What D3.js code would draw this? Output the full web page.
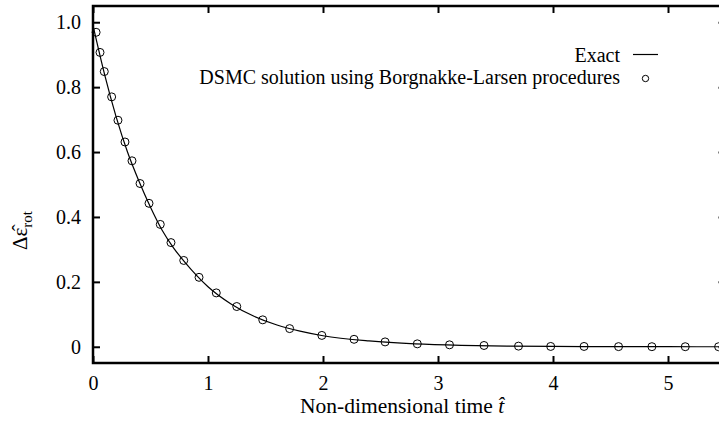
<!DOCTYPE html>
<html>
<head>
<meta charset="utf-8">
<script src="https://cdn.jsdelivr.net/npm/d3@7"></script>
<style>
  body { margin: 0; background: #fff; }
</style>
</head>
<body>
<svg width="719" height="428"></svg>
<script>
// exact solution
const exactT = [0, 0.1, 0.2, 0.3, 0.4, 0.5, 0.6, 0.7, 0.8, 0.9, 1.0, 1.2, 1.4, 1.6, 1.8, 2.0, 2.4, 2.8, 3.2, 3.6, 4.0, 4.5, 5.0, 5.5];
const exactY = [0.99, 0.84, 0.71, 0.60, 0.51, 0.43, 0.36, 0.305, 0.26, 0.22, 0.185, 0.132, 0.094, 0.067, 0.048, 0.034, 0.018, 0.009, 0.0045, 0.0023, 0.0012, 0.0005, 0.0002, 0.0001];

// DSMC points
const dsmcT = [0.027, 0.061, 0.098, 0.162, 0.217, 0.278, 0.339, 0.409, 0.487, 0.585, 0.678, 0.789, 0.922, 1.072, 1.25, 1.476, 1.71, 1.99, 2.27, 2.54, 2.82, 3.10, 3.40, 3.70, 3.98, 4.27, 4.57, 4.86, 5.15, 5.44];
const dsmcY = [0.969, 0.907, 0.848, 0.770, 0.698, 0.631, 0.573, 0.503, 0.442, 0.377, 0.321, 0.266, 0.214, 0.166, 0.124, 0.083, 0.056, 0.035, 0.023, 0.015, 0.009, 0.006, 0.004, 0.002, 0.001, 0.001, 0.0005, 0.0003, 0.0002, 0.0001];

const xTicks = [0, 1, 2, 3, 4, 5];
const yTicks = [0, 0.2, 0.4, 0.6, 0.8, 1.0];

const FONT = '"Liberation Serif", "Times New Roman", Times, serif';
const pLeft = 93, pRight = 725.5, pTop = 6, pBottom = 363;

const svg = d3.select('svg');

const x = d3.scaleLinear().domain([0, 5.5]).range([pLeft, pRight]);
const y = d3.scaleLinear().domain([-0.05, 1.05]).range([pBottom, pTop]);

// ticks, gnuplot style (inside, mirrored)
const tl = 7;
const xAxis = d3.axisBottom(x).tickValues(xTicks).tickSizeInner(-tl).tickSizeOuter(0).tickPadding(13).tickFormat(d3.format('d'));
const yAxis = d3.axisLeft(y).tickValues(yTicks).tickSizeInner(-tl).tickSizeOuter(0).tickPadding(12)
  .tickFormat(d => d === 0 ? '0' : d3.format('.1f')(d));

const axes = [
  svg.append('g').attr('transform', `translate(0,${pBottom})`).call(xAxis),
  svg.append('g').attr('transform', `translate(${pLeft},0)`).call(yAxis),
  svg.append('g').attr('transform', `translate(0,${pTop})`)
    .call(d3.axisTop(x).tickValues(xTicks).tickSizeInner(-tl).tickSizeOuter(0).tickFormat('')),
  svg.append('g').attr('transform', `translate(${pRight},0)`)
    .call(d3.axisRight(y).tickValues(yTicks).tickSizeInner(-tl).tickSizeOuter(0).tickFormat(''))
];
axes.forEach(g => g.attr('font-family', FONT).attr('font-size', 20));

svg.selectAll('.domain').remove();
svg.selectAll('.tick line').attr('stroke', '#000').attr('stroke-width', 2);
svg.selectAll('.tick text').style('font-size', '20px').style('font-family', FONT).attr('fill', '#000');

// frame
svg.append('rect')
  .attr('x', pLeft).attr('y', pTop)
  .attr('width', pRight - pLeft).attr('height', pBottom - pTop)
  .attr('fill', 'none').attr('stroke', '#000').attr('stroke-width', 2.5);

// exact curve
const lineGen = d3.line().x(d => x(d[0])).y(d => y(d[1])).curve(d3.curveMonotoneX);
svg.append('path')
  .datum(exactT.map((t, i) => [t, exactY[i]]))
  .attr('d', lineGen)
  .attr('fill', 'none').attr('stroke', '#000').attr('stroke-width', 1.2);

// DSMC points
svg.append('g').selectAll('circle')
  .data(dsmcT.map((t, i) => [t, dsmcY[i]]))
  .enter().append('circle')
  .attr('cx', d => x(d[0])).attr('cy', d => y(d[1]))
  .attr('r', 4)
  .attr('fill', 'none').attr('stroke', '#000').attr('stroke-width', 1);

// legend
const lg = svg.append('g').attr('font-family', FONT).attr('font-size', 20);
lg.append('text').attr('x', 620).attr('y', 62).attr('text-anchor', 'end')
  .style('font-family', FONT).style('font-size', '20px').text('Exact');
lg.append('line').attr('x1', 633).attr('x2', 658).attr('y1', 54.5).attr('y2', 54.5)
  .attr('stroke', '#000').attr('stroke-width', 1.2);
lg.append('text').attr('x', 620).attr('y', 84).attr('text-anchor', 'end')
  .style('font-family', FONT).style('font-size', '20px')
  .text('DSMC solution using Borgnakke-Larsen procedures');
lg.append('circle').attr('cx', 645.5).attr('cy', 78.5).attr('r', 3.2)
  .attr('fill', 'none').attr('stroke', '#000').attr('stroke-width', 1);

// axis labels
const xl = svg.append('text').attr('x', 300).attr('y', 413)
  .attr('font-family', FONT).attr('font-size', 21.5)
  .style('font-family', FONT).style('font-size', '21.5px');
xl.append('tspan').text('Non-dimensional time  ');
xl.append('tspan').style('font-style', 'italic').text('t\u0302');

const yl = svg.append('text').attr('transform', 'translate(27,250) rotate(-90)')
  .attr('font-family', FONT).attr('font-size', 21)
  .style('font-family', FONT).style('font-size', '21px');
yl.append('tspan').text('\u0394\u03b5\u0302');
yl.append('tspan').style('font-size', '15px').attr('dy', 5).text('rot');
</script>
</body>
</html>
